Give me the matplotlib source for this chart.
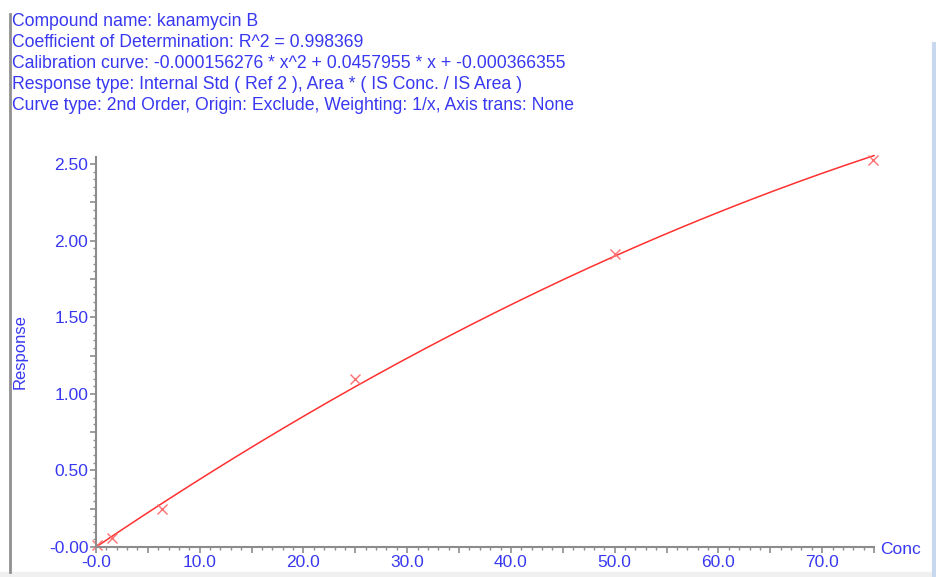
import numpy as np
import matplotlib
matplotlib.use("Agg")
import matplotlib.pyplot as plt
from matplotlib.lines import Line2D
from matplotlib.patches import Rectangle
from matplotlib.ticker import MultipleLocator, FuncFormatter

plt.rcParams['font.family'] = ['Liberation Sans', 'DejaVu Sans']

# calibration standards (conc, response)
conc = [0.1, 1.5, 6.4, 25.0, 50.0, 74.9]
response = [0.01, 0.061, 0.248, 1.097, 1.912, 2.526]

# fitted 2nd order coefficients
coef_a = -0.000156276
coef_b = 0.0457955
coef_c = -0.000366355

header_lines = [
    "Compound name: kanamycin B",
    "Coefficient of Determination: R^2 = 0.998369",
    "Calibration curve: -0.000156276 * x^2 + 0.0457955 * x + -0.000366355",
    "Response type: Internal Std ( Ref 2 ), Area * ( IS Conc. / IS Area )",
    "Curve type: 2nd Order, Origin: Exclude, Weighting: 1/x, Axis trans: None",
]

W, H = 936, 577
blue = '#3838f0'
gray = '#8c8c8c'

fig = plt.figure(figsize=(W / 100, H / 100), dpi=100)
fig.patch.set_facecolor('white')

# axes box in pixel coordinates
x0, x1 = 96, 874
y0, y1 = 547, 157
ax = fig.add_axes([x0 / W, 1 - y0 / H, (x1 - x0) / W, (y0 - y1) / H])

xs = np.linspace(0, 75, 300)
fit = coef_a * xs ** 2 + coef_b * xs + coef_c
ax.plot(xs, fit, color='#ff3030', lw=1.1, clip_on=False)
ax.plot(conc, response, linestyle='none', marker='x', color='#ff7070',
        markersize=7, markeredgewidth=1.0, clip_on=False)

ax.set_xlim(0, 75)
ax.set_ylim(0, 2.546)

for side in ('top', 'right'):
    ax.spines[side].set_visible(False)
for side in ('left', 'bottom'):
    ax.spines[side].set_color(gray)
    ax.spines[side].set_linewidth(1.5)

ax.xaxis.set_major_locator(MultipleLocator(5))
ax.xaxis.set_minor_locator(MultipleLocator(1))
ax.yaxis.set_major_locator(MultipleLocator(0.25))
ax.yaxis.set_minor_locator(MultipleLocator(0.05))


def fmt_x(v, pos):
    if abs(v % 10) > 1e-6 and abs(v % 10 - 10) > 1e-6:
        return ''
    return '-0.0' if abs(v) < 1e-9 else f'{v:.1f}'


def fmt_y(v, pos):
    if abs((v / 0.5) - round(v / 0.5)) > 1e-6:
        return ''
    return '-0.00' if abs(v) < 1e-9 else f'{v:.2f}'


ax.xaxis.set_major_formatter(FuncFormatter(fmt_x))
ax.yaxis.set_major_formatter(FuncFormatter(fmt_y))
ax.tick_params(which='major', direction='out', length=4.5, width=1.2,
               color=gray, labelcolor=blue, labelsize=12.5, pad=1)
ax.tick_params(which='minor', direction='out', length=2.5, width=1.0,
               color=gray)

fig.text(20 / W, 1 - 352 / H, 'Response', rotation=90, color=blue,
         fontsize=12, ha='center', va='center')
fig.text(880 / W, 1 - 549 / H, 'Conc', color=blue, fontsize=12.5,
         ha='left', va='center')

for i, line in enumerate(header_lines):
    fig.text(12 / W, 1 - (21 + 21.1 * i) / H, line, color=blue,
             fontsize=12.7, ha='left', va='center')

# window frame pieces
fig.add_artist(Line2D([10 / W, 10 / W], [1 - 14 / H, 1 - 572 / H],
                      color='#909090', lw=2))
fig.add_artist(Line2D([934 / W, 934 / W], [1 - 44 / H, 0],
                      color='#c8d8ee', lw=3))
fig.add_artist(Rectangle((0, 0), 1, 5 / H, transform=fig.transFigure,
                         color='#f0f0f0', zorder=0))

fig.savefig('out.png', dpi=100)
